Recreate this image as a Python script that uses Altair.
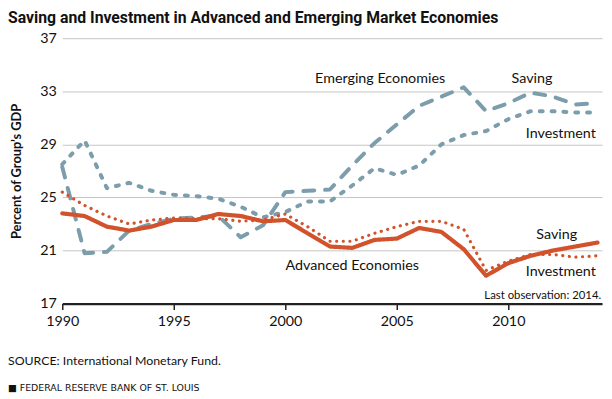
import altair as alt
import pandas as pd

years = list(range(1990, 2015))

em_saving = [27.3, 20.8, 20.9, 22.5, 23.0, 23.4, 23.5, 23.6, 22.0, 22.9, 25.4,
             25.5, 25.6, 27.4, 29.1, 30.5, 31.9, 32.6, 33.3, 31.5, 32.1, 32.9,
             32.6, 32.0, 32.1]
em_invest = [27.5, 29.3, 25.7, 26.1, 25.5, 25.2, 25.1, 24.9, 24.3, 23.5, 23.9,
             24.7, 24.7, 25.9, 27.2, 26.7, 27.4, 29.0, 29.7, 30.0, 30.9, 31.5,
             31.5, 31.4, 31.4]
adv_saving = [23.8, 23.6, 22.8, 22.5, 22.8, 23.3, 23.3, 23.75, 23.6, 23.2, 23.3,
              22.3, 21.3, 21.2, 21.8, 21.9, 22.7, 22.4, 21.1, 19.1, 20.05, 20.6,
              21.0, 21.3, 21.6]
adv_invest = [25.4, 24.4, 23.6, 23.0, 23.3, 23.45, 23.4, 23.4, 23.2, 23.3, 23.75,
              22.8, 21.7, 21.7, 22.3, 22.8, 23.2, 23.2, 22.6, 19.5, 20.2, 20.7,
              20.7, 20.5, 20.6]

y_ticks = [17, 21, 25, 29, 33, 37]
x_ticks = [1990, 1995, 2000, 2005, 2010]

labels_text = ["Emerging Economies", "Saving", "Investment", "Saving", "Investment",
               "Advanced Economies"]
labels_x = [2004.25, 2011.06, 2012.35, 2012.17, 2012.35, 2003.0]
labels_y = [33.9, 33.9, 29.8, 22.2, 19.4, 19.8]

TITLE = "Saving and Investment in Advanced and Emerging Market Economies"
SOURCE = "SOURCE: International Monetary Fund."
FOOTER = "\u25A0  FEDERAL RESERVE BANK OF ST. LOUIS"
LAST = "Last observation: 2014."

BLUE = "#7c9dab"
ORANGE = "#d2522b"
FONT = "Lato"

rows = []
for name, vals in [("em_s", em_saving), ("em_i", em_invest),
                   ("adv_s", adv_saving), ("adv_i", adv_invest)]:
    for yr, v in zip(years, vals):
        rows.append({"year": yr, "value": v, "series": name})
df = pd.DataFrame(rows)

xscale = alt.Scale(domain=[1990, 2014.2], nice=False, zero=False)
yscale = alt.Scale(domain=[17, 37], nice=False, zero=False)

base = alt.Chart(df)

def line(series, color, width, dash):
    return base.transform_filter(alt.datum.series == series).mark_line(
        color=color, strokeWidth=width, strokeDash=dash, strokeCap="round",
        strokeJoin="round"
    ).encode(
        x=alt.X("year:Q", scale=xscale,
                axis=alt.Axis(values=x_ticks, format="d", title=None, grid=False,
                              domain=True, domainColor="#222", domainWidth=2.5,
                              ticks=True, tickColor="#222", tickSize=6, tickWidth=1.5,
                              labelFont=FONT, labelFontSize=14.5, labelColor="#111",
                              labelPadding=5, labelFlush=False)),
        y=alt.Y("value:Q", scale=yscale,
                axis=alt.Axis(values=y_ticks, title="Percent of Group\u2019s GDP",
                              grid=True, gridColor="#c4c4c4", gridWidth=1,
                              domain=False, ticks=False,
                              labelFont=FONT, labelFontSize=14.5, labelColor="#111",
                              labelPadding=6, titleFont=FONT, titleFontSize=13,
                              titleFontWeight="bold", titleColor="#111",
                              titlePadding=17)),
    )

l1 = line("em_i", BLUE, 4, [3, 9])
l2 = line("em_s", BLUE, 4, [11, 11])
l3 = line("adv_i", ORANGE, 3.2, [0.1, 6.6])
l4 = line("adv_s", ORANGE, 4.2, [1, 0])

lab_df = pd.DataFrame({"t": labels_text, "x": labels_x, "y": labels_y})
labels = alt.Chart(lab_df).mark_text(font=FONT, fontSize=14.5, color="#111",
                                     align="center", baseline="middle").encode(
    x=alt.X("x:Q", scale=xscale), y=alt.Y("y:Q", scale=yscale), text="t:N")

last_df = pd.DataFrame({"t": [LAST], "x": [2014.16], "y": [17.6]})
last = alt.Chart(last_df).mark_text(font=FONT, fontSize=11.5, color="#111",
                                    align="right", baseline="middle").encode(
    x=alt.X("x:Q", scale=xscale), y=alt.Y("y:Q", scale=yscale), text="t:N")

title = alt.Chart(pd.DataFrame({"t": [TITLE]})).mark_text(
    font="Roboto", fontSize=16, fontWeight="bold", color="#111", align="left",
    baseline="alphabetic"
).encode(x=alt.value(-55), y=alt.value(-15), text="t:N")

src = alt.Chart(pd.DataFrame({"t": [SOURCE]})).mark_text(
    font=FONT, fontSize=12.5, color="#111", align="left", baseline="middle"
).encode(x=alt.value(-55), y=alt.value(327), text="t:N")

foot = alt.Chart(pd.DataFrame({"t": [FOOTER]})).mark_text(
    font="DejaVu Sans", fontSize=9.5, color="#111", align="left", baseline="middle"
).encode(x=alt.value(-55), y=alt.value(355), text="t:N")

chart = alt.layer(l1, l2, l3, l4, labels, last, title, src, foot).properties(
    width=547, height=269,
    autosize="none",
    padding={"left": 55, "top": 28, "right": 2, "bottom": 88},
).configure_view(stroke=None)

chart.save("out.html", embed_options={"renderer": "svg", "actions": False})
